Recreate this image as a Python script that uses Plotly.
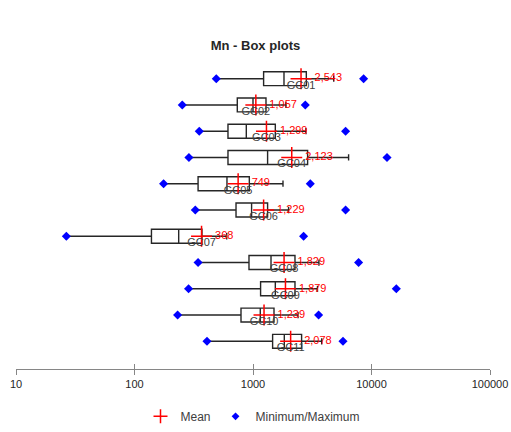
import plotly.graph_objects as go

categories = ["GC01", "GC02", "GC03", "GC04", "GC05", "GC06", "GC07", "GC08", "GC09", "GC10", "GC11"]
minimum = [490, 253, 352, 288, 176, 326, 26.6, 344, 286, 231, 409]
q1 = [1229, 737, 615, 615, 344, 719, 139, 925, 1159, 792, 1464]
median = [1826, 1000, 878, 1328, 603, 973, 236, 1419, 1543, 1152, 1837]
q3 = [2818, 1287, 1543, 2890, 931, 1328, 371, 2261, 2261, 1504, 2571]
upper_whisker = [4800, 1900, 2800, 6409, 1791, 1997, 600, 3600, 3500, 2400, 3800]
maximum = [8578, 2762, 6045, 13515, 3044, 6045, 2673, 7783, 16195, 3577, 5747]
mean = [2543, 1057, 1299, 2123, 749, 1229, 368, 1829, 1879, 1239, 2078]

tick_vals = [10, 100, 1000, 10000, 100000]
tick_text = ["10", "100", "1000", "10000", "100000"]

font_family = "Liberation Sans"

fig = go.Figure()

# boxes from precomputed stats, left whisker reaches the minimum
fig.add_trace(go.Box(
    y=categories, q1=q1, median=median, q3=q3,
    lowerfence=minimum, upperfence=upper_whisker,
    orientation="h", width=0.53, whiskerwidth=0.45,
    fillcolor="white", line=dict(color="#262626", width=1.4),
    boxpoints=False, showlegend=False, hoverinfo="skip"))

# min / max diamonds
fig.add_trace(go.Scatter(
    x=minimum + maximum, y=categories + categories, mode="markers",
    marker=dict(symbol="diamond", size=7, color="#0000FF"),
    showlegend=False, hoverinfo="skip"))

# mean crosses
fig.add_trace(go.Scatter(
    x=mean, y=categories, mode="markers",
    marker=dict(symbol="cross-thin", size=15, color="#FF0000",
                line=dict(color="#FF0000", width=1.5)),
    showlegend=False, hoverinfo="skip"))

# mean value labels
fig.add_trace(go.Scatter(
    x=mean, y=categories, mode="markers+text",
    text=[f"{m:,}" for m in mean], textposition="middle right",
    textfont=dict(color="#FF0000", size=11, family=font_family),
    marker=dict(size=20, color="rgba(0,0,0,0)"),
    showlegend=False, hoverinfo="skip"))

# category labels below the mean
fig.add_trace(go.Scatter(
    x=mean, y=categories, mode="markers+text",
    text=categories, textposition="bottom center",
    textfont=dict(color="#404040", size=11, family=font_family),
    marker=dict(size=1, color="rgba(0,0,0,0)"),
    showlegend=False, hoverinfo="skip"))

# legend-only entries with small symbols
fig.add_trace(go.Scatter(
    x=[None], y=[None], mode="markers", name="Mean",
    marker=dict(symbol="cross-thin", size=10, color="#FF0000",
                line=dict(color="#FF0000", width=1.5))))
fig.add_trace(go.Scatter(
    x=[None], y=[None], mode="markers", name="Minimum/Maximum",
    marker=dict(symbol="diamond", size=6, color="#0000FF")))

# dummy trace so the inner tick marks on xaxis2 are drawn
fig.add_trace(go.Scatter(x=[10], y=[categories[0]], xaxis="x2", mode="markers",
                         marker=dict(color="rgba(0,0,0,0)"), showlegend=False,
                         hoverinfo="skip"))

fig.update_layout(
    width=511, height=432,
    margin=dict(l=16, r=21, t=60, b=63, autoexpand=False),
    paper_bgcolor="white", plot_bgcolor="white",
    font=dict(family=font_family, size=11, color="#404040"),
    title=dict(text="<b>Mn - Box plots</b>", x=0.5, xanchor="center",
               y=0.895, yanchor="middle",
               font=dict(size=13, color="#262626", family=font_family)),
    xaxis=dict(type="log", range=[1, 5], tickvals=tick_vals, ticktext=tick_text,
               showgrid=False, zeroline=False, showline=True, linecolor="#868686",
               linewidth=1, ticks="outside", ticklen=5, tickcolor="#868686",
               tickfont=dict(size=11, color="#262626")),
    xaxis2=dict(type="log", range=[1, 5], tickvals=tick_vals, overlaying="x",
                anchor="y", side="bottom", showticklabels=False, showgrid=False,
                zeroline=False, ticks="inside", ticklen=5, tickcolor="#868686"),
    yaxis=dict(type="category", categoryorder="array", categoryarray=categories,
               range=[11.055, -0.712], showgrid=False, zeroline=False,
               showline=False, showticklabels=False, ticks=""),
    legend=dict(orientation="h", x=0.5, xanchor="center",
                y=-0.2, yanchor="bottom",
                itemwidth=30, font=dict(size=12, color="#404040")),
)

fig.write_html("out.html", config={"displayModeBar": False},
               post_script="document.body.style.margin='0';")
